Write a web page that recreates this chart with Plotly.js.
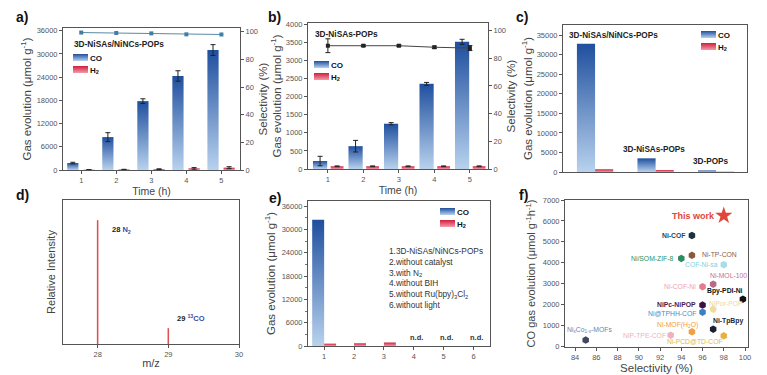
<!DOCTYPE html>
<html><head><meta charset="utf-8">
<script src="https://cdn.plot.ly/plotly-3.0.1.min.js"></script>
<style>html,body{margin:0;padding:0;background:#fff;} #chart{width:767px;height:375px;}</style>
</head><body><div id="chart"></div>
<script>
// ---------------- data ----------------
const timeH = [1, 2, 3, 4, 5];
const aCO = [1800, 8500, 17800, 24300, 31000];
const aCOerr = [200, 1150, 600, 1350, 1400];
const aH2 = [60, 120, 220, 420, 600];
const aH2err = [30, 60, 80, 200, 250];
const aSel = [99.5, 99.2, 98.9, 98.2, 98.1];

const bCO = [220, 630, 1250, 2350, 3510];
const bCOerr = [130, 160, 30, 40, 70];
const bH2 = [75, 75, 75, 75, 75];
const bH2err = [10, 10, 10, 10, 10];
const bSel = [89, 89, 89, 87.9, 87.3];
const bSelErr = [5, 0.6, 0.6, 0.8, 1.8];

const cCat = [1, 2, 3];
const cNames = ['3D-NiSAs/NiNCs-POPs', '3D-NiSAs-POPs', '3D-POPs'];
const cCO = [32800, 3500, 400];
const cH2 = [700, 500, 60];

const mzPeaks = [28, 29];
const mzIntensity = [0.86, 0.11];
const mzLabels = ['<b>28 <span style="color:#2f4fa8">N<sub>2</sub></span></b>',
                  '<b>29 <span style="color:#2f4fa8"><sup>13</sup>CO</span></b>'];

const eCat = [1, 2, 3, 4, 5, 6];
const eCO = [32500, 0, 0, 0, 0, 0];
const eH2 = [600, 700, 900, 0, 0, 0];
const eND = [4, 5, 6];
const eConditions = ['1.3D-NiSAs/NiNCs-POPs', '2.without catalyst', '3.with N<sub>2</sub>',
                     '4.without BIH', '5.without Ru(bpy)<sub>3</sub>Cl<sub>2</sub>', '6.without light'];

const fNames = ['Ni-COF', 'Ni-TP-CON', 'Ni/SOM-ZIF-8', 'COF-Ni-sa', 'Ni-MOL-100', 'Ni-COF-Ni',
                'Bpy-PDI-Ni', 'NiPc-NiPOP', 'NiPor-POP', 'Ni@TPHH-COF', 'Ni-TpBpy',
                'Ni-MOF(H<sub>2</sub>O)', 'NiP-TPE-COF', 'Ni-PCD@TD-COF', 'Ni<sub>x</sub>Co<sub>1-x</sub>-MOFs'];
const fSel = [95, 95, 94, 98, 97, 96, 99.8, 96, 97, 96, 97, 95, 93, 98, 85];
const fCO  = [5300, 4350, 4200, 3900, 2970, 2850, 2250, 1970, 1770, 1630, 815, 690, 525, 495, 290];
const thisWorkSel = [98];
const thisWorkCO = [6250];

// ---------------- styles ----------------
const F = 'Liberation Sans, Arial, sans-serif';
const fColors = ['#1b3242', '#8b5a3c', '#2e8b60', '#a8dce8', '#b86a8a', '#e87a90',
                 '#111111', '#3a1040', '#f0dca0', '#3a80c8', '#1a2030',
                 '#f0a040', '#f0b0c0', '#e8b040', '#404860'];
const fTextColors = ['#1e4a5a', '#8b6040', '#2e9060', '#80cfe0', '#c87090', '#f0a0b0',
                     '#111111', '#4a1a50', '#eed6a0', '#3a90d0', '#1a2a3a',
                     '#f0a040', '#f0b0c0', '#e0b850', '#7080b0'];
// [xanchor, xshift, yshift]
const fLabelPos = [['right',-5,0],['left',8,1],['right',-5,0],['right',-4,0],['left',-5,9],['right',-5,0],
                   ['right',2,8],['right',-5,1],['left',-6,6],['right',-5,-1],['left',-2,8],
                   ['right',8,7],['right',-3,0],['right',1,-6],['center',4,10]];
const fBold = [true,false,false,false,false,false,true,true,false,false,true,false,false,false,false];

const W = 767, H = 375;
const dx = (l, r) => [l / W, r / W];
const dy = (t, b) => [1 - b / H, 1 - t / H];
const px = v => v / W, py = v => 1 - v / H;

function ax(extra) {
  return Object.assign({
    showline: true, linecolor: '#555', linewidth: 1, mirror: true,
    ticks: 'outside', ticklen: 3, tickwidth: 1, tickcolor: '#555', tickformat: 'd',
    tickfont: {size: 7.5, color: '#555', family: F},
    showgrid: false, zeroline: false, fixedrange: true
  }, extra);
}
const tfont = (s) => ({size: s || 11.5, color: '#444', family: F});
const errStyle = (arr) => ({type: 'data', array: arr, visible: true, color: '#222', thickness: 1, width: 2.5});

const traces = [
  // panel a
  {type: 'bar', x: timeH, y: aCO, name: '<b>CO</b>', meta: 'CO', xaxis: 'x', yaxis: 'y', legend: 'legend',
   offset: -0.4, width: 0.32, marker: {color: '#4a7cc0'}, error_y: errStyle(aCOerr)},
  {type: 'bar', x: timeH, y: aH2, name: '<b>H<sub>2</sub></b>', meta: 'H2', xaxis: 'x', yaxis: 'y', legend: 'legend',
   offset: 0.06, width: 0.32, marker: {color: '#e04a5a'}, error_y: errStyle(aH2err)},
  {type: 'scatter', mode: 'lines+markers', x: timeH, y: aSel, xaxis: 'x', yaxis: 'y2', showlegend: false,
   line: {color: '#5a8aa8', width: 1}, marker: {symbol: 'square', size: 4, color: '#3f7fa3'}},
  // panel b
  {type: 'bar', x: timeH, y: bCO, name: '<b>CO</b>', meta: 'CO', xaxis: 'x2', yaxis: 'y3', legend: 'legend2',
   offset: -0.42, width: 0.4, marker: {color: '#4a7cc0'}, error_y: errStyle(bCOerr)},
  {type: 'bar', x: timeH, y: bH2, name: '<b>H<sub>2</sub></b>', meta: 'H2', xaxis: 'x2', yaxis: 'y3', legend: 'legend2',
   offset: 0.08, width: 0.36, marker: {color: '#e04a5a'}, error_y: errStyle(bH2err)},
  {type: 'scatter', mode: 'lines+markers', x: timeH, y: bSel, xaxis: 'x2', yaxis: 'y4', showlegend: false,
   line: {color: '#444', width: 1}, marker: {symbol: 'square', size: 4, color: '#222'},
   error_y: errStyle(bSelErr)},
  // panel c
  {type: 'bar', x: cCat, y: cCO, name: '<b>CO</b>', meta: 'CO', xaxis: 'x3', yaxis: 'y5', legend: 'legend3',
   offset: -0.3, width: 0.3, marker: {color: '#4a7cc0'}},
  {type: 'bar', x: cCat, y: cH2, name: '<b>H<sub>2</sub></b>', meta: 'H2', xaxis: 'x3', yaxis: 'y5', legend: 'legend3',
   offset: 0, width: 0.3, marker: {color: '#e04a5a'}},
  // panel d
  {type: 'bar', x: mzPeaks, y: mzIntensity, xaxis: 'x4', yaxis: 'y6', showlegend: false,
   width: 0.022, marker: {color: '#e05050'}},
  // panel e
  {type: 'bar', x: eCat, y: eCO, name: '<b>CO</b>', meta: 'CO', xaxis: 'x5', yaxis: 'y7', legend: 'legend4',
   offset: -0.4, width: 0.4, marker: {color: '#4a7cc0'}},
  {type: 'bar', x: eCat, y: eH2, name: '<b>H<sub>2</sub></b>', meta: 'H2', xaxis: 'x5', yaxis: 'y7', legend: 'legend4',
   offset: 0, width: 0.4, marker: {color: '#e04a5a'}},
  // panel f
  {type: 'scatter', mode: 'markers', x: fSel, y: fCO, xaxis: 'x6', yaxis: 'y8', showlegend: false,
   marker: {symbol: 'hexagon', size: 7.5, color: fColors, line: {width: 0}}},
  {type: 'scatter', mode: 'markers', x: thisWorkSel, y: thisWorkCO, xaxis: 'x6', yaxis: 'y8', showlegend: false,
   marker: {symbol: 'star', size: 13, color: '#e0473a', line: {width: 0}}}
];

const annotations = [];
[['a)', 22, 17], ['b)', 274, 17], ['c)', 522, 17], ['d)', 22, 195], ['e)', 275, 198], ['f)', 523, 195]]
  .forEach(([t, x, y]) => annotations.push({text: '<b>' + t + '</b>', xref: 'paper', yref: 'paper',
    x: px(x), y: py(y), xanchor: 'center', yanchor: 'middle', showarrow: false,
    font: {size: 14, color: '#111', family: F}}));

// sample names inside panels a and b
[['3D-NiSAs/NiNCs-POPs', 72, 44], ['3D-NiSAs-POPs', 313, 34]].forEach(([t, x, y]) =>
  annotations.push({text: '<b>' + t + '</b>', xref: 'paper', yref: 'paper', x: px(x), y: py(y),
    xanchor: 'left', yanchor: 'middle', showarrow: false, font: {size: 8.3, color: '#222', family: F}}));

const cShift = [0.3, -0.03, -0.09];
cNames.forEach((n, i) => annotations.push({text: '<b>' + n + '</b>', xref: 'x3', yref: 'y5',
  x: cCat[i] + cShift[i], y: cCO[i], xanchor: 'center', yanchor: 'bottom', yshift: 2, showarrow: false,
  font: {size: 8.2, color: '#222', family: F}}));

const mzPos = [[12, -10], [7, 10]];
mzLabels.forEach((t, i) => annotations.push({text: t, xref: 'x4', yref: 'y6', x: mzPeaks[i], y: mzIntensity[i],
  xanchor: 'left', yanchor: 'middle', xshift: mzPos[i][0], yshift: mzPos[i][1], showarrow: false,
  font: {size: 7.5, color: '#222', family: F}}));

annotations.push({text: eConditions.join('<br>'), xref: 'paper', yref: 'paper', x: px(387), y: py(244),
  xanchor: 'left', yanchor: 'top', align: 'left', showarrow: false, font: {size: 8.3, color: '#333', family: F}});
eND.forEach(c => annotations.push({text: '<b>n.d.</b>', xref: 'x5', yref: 'y7', x: c, y: 0,
  xanchor: 'center', yanchor: 'bottom', xshift: 3, yshift: 2, showarrow: false,
  font: {size: 7.5, color: '#333', family: F}}));

fNames.forEach((n, i) => annotations.push({text: fBold[i] ? '<b>' + n + '</b>' : n, xref: 'x6', yref: 'y8',
  x: fSel[i], y: fCO[i], xanchor: fLabelPos[i][0], yanchor: 'middle', xshift: fLabelPos[i][1], yshift: fLabelPos[i][2],
  showarrow: false, font: {size: 6.8, color: fTextColors[i], family: F}}));
annotations.push({text: '<b>This work</b>', xref: 'x6', yref: 'y8', x: thisWorkSel[0], y: thisWorkCO[0],
  xanchor: 'right', yanchor: 'middle', xshift: -7, showarrow: false, font: {size: 9, color: '#e0473a', family: F}});

const legBase = (x, y) => ({
  x: px(x), y: py(y), xanchor: 'left', yanchor: 'top', bgcolor: 'rgba(0,0,0,0)',
  font: {size: 8, color: '#111', family: F}, itemwidth: 30, tracegroupgap: 0
});

const gasTitle = 'Gas evolution (μmol g<sup>-1</sup>)';
const layout = {
  width: W, height: H, margin: {l: 0, r: 0, t: 0, b: 0}, paper_bgcolor: '#fff', plot_bgcolor: '#fff',
  font: {family: F}, showlegend: true, barmode: 'group',
  legend: legBase(50, 43),
  legend2: legBase(291, 50),
  legend3: legBase(678, 20),
  legend4: legBase(417, 197),
  // a
  xaxis: ax({domain: dx(63, 240), anchor: 'y', range: [0.48, 5.53], dtick: 1,
    title: {text: 'Time (h)', font: tfont(10.5), standoff: 3}}),
  yaxis: ax({domain: dy(28, 170), anchor: 'x', range: [0, 36700], dtick: 6000,
    title: {text: gasTitle, font: tfont(11.5), standoff: 2}}),
  yaxis2: ax({domain: dy(28, 170), anchor: 'x', overlaying: 'y', side: 'right', range: [0, 102.8], dtick: 20,
    title: {text: 'Selectivity (%)', font: tfont(11.5), standoff: 1}}),
  // b
  xaxis2: ax({domain: dx(308, 488), anchor: 'y3', range: [0.44, 5.51], dtick: 1,
    title: {text: 'Time (h)', font: tfont(10.5), standoff: 3}}),
  yaxis3: ax({domain: dy(23, 169), anchor: 'x2', range: [0, 4030], dtick: 500,
    title: {text: gasTitle, font: tfont(11.5), standoff: 1}}),
  yaxis4: ax({domain: dy(23, 169), anchor: 'x2', overlaying: 'y3', side: 'right', range: [0, 105.4], dtick: 20,
    title: {text: 'Selectivity (%)', font: tfont(11.5), standoff: 1}}),
  // c
  xaxis3: ax({domain: dx(563, 747), anchor: 'y5', range: [0.47, 3.51], ticks: '', showticklabels: false}),
  yaxis5: ax({domain: dy(25, 172), anchor: 'x3', range: [0, 37600], dtick: 5000,
    title: {text: gasTitle, font: tfont(11.5), standoff: 1}}),
  // d
  xaxis4: ax({domain: dx(63, 239), anchor: 'y6', range: [27.51, 30], dtick: 1,
    title: {text: 'm/z', font: tfont(11), standoff: 1}}),
  yaxis6: ax({domain: dy(200, 344), anchor: 'x4', range: [0, 1], ticks: '', showticklabels: false,
    title: {text: 'Relative Intensity', font: tfont(11), standoff: 4}}),
  // e
  xaxis5: ax({domain: dx(308, 490), anchor: 'y7', range: [0.46, 6.55], dtick: 1}),
  yaxis7: ax({domain: dy(201, 346), anchor: 'x5', range: [0, 37300], dtick: 6000,
    minor: {ticks: 'outside', ticklen: 2, dtick: 3000, tickcolor: '#777'},
    title: {text: gasTitle, font: tfont(11.5), standoff: 3}}),
  // f
  xaxis6: ax({domain: dx(565, 748), anchor: 'y8', range: [83.05, 100.28], dtick: 2,
    title: {text: 'Selectivity (%)', font: tfont(11.5), standoff: 2}}),
  yaxis8: ax({domain: dy(200, 347), anchor: 'x6', range: [-40, 7000], dtick: 1000,
    title: {text: 'CO gas evolution (μmol g<sup>-1</sup>h<sup>-1</sup>)', font: tfont(11), standoff: 4}}),
  annotations: annotations
};

function restyleSvg(gd) {
  const ns = 'http://www.w3.org/2000/svg';
  const svg = gd.querySelector('svg.main-svg');
  let defs = svg.querySelector('defs');
  if (!defs) { defs = document.createElementNS(ns, 'defs'); svg.insertBefore(defs, svg.firstChild); }
  function grad(id, top, bottom) {
    const lg = document.createElementNS(ns, 'linearGradient');
    lg.setAttribute('id', id);
    lg.setAttribute('x1', '0'); lg.setAttribute('y1', '0'); lg.setAttribute('x2', '0'); lg.setAttribute('y2', '1');
    [[0, top], [1, bottom]].forEach(([o, c]) => {
      const s = document.createElementNS(ns, 'stop');
      s.setAttribute('offset', o); s.setAttribute('stop-color', c); lg.appendChild(s);
    });
    defs.appendChild(lg);
  }
  grad('gradCO', '#1f4f9e', '#b8d2ee');
  grad('gradH2', '#cf1f3b', '#f49aaa');
  const pick = (tr) => tr && tr.meta === 'CO' ? 'gradCO' : (tr && tr.meta === 'H2' ? 'gradH2' : null);
  gd.querySelectorAll('g.trace.bars').forEach(g => {
    const d = g.__data__; if (!d || !d[0]) return;
    const id = pick(d[0].trace); if (!id) return;
    g.querySelectorAll('g.point path').forEach(p => { p.style.fill = 'url(#' + id + ')'; });
  });
  // legend entries: wide flat swatch placed just before the text, tight spacing
  const groups = new Map();
  gd.querySelectorAll('g.traces').forEach(g => {
    const d = g.__data__; if (!d) return;
    const cd = Array.isArray(d[0]) ? d[0][0] : d[0];
    const id = pick(cd && cd.trace); if (!id) return;
    g.querySelectorAll('.legendpoints path').forEach(p => {
      p.setAttribute('d', 'M3,-3.5H18V3.5H3Z');
      p.style.fill = 'url(#' + id + ')';
      p.style.stroke = 'none';
    });
    const par = g.parentNode;
    if (!groups.has(par)) groups.set(par, []);
    groups.get(par).push(g);
  });
  groups.forEach(list => {
    const m0 = /translate\(\s*([-\d.]+)[ ,]+([-\d.]+)/.exec(list[0].getAttribute('transform') || '');
    if (!m0) return;
    const x0 = parseFloat(m0[1]), y0 = parseFloat(m0[2]);
    list.forEach((g, i) => g.setAttribute('transform', 'translate(' + x0 + ',' + (y0 + i * 12) + ')'));
  });
}

Plotly.newPlot('chart', traces, layout, {staticPlot: true, displayModeBar: false}).then(restyleSvg);
</script>
</body></html>
